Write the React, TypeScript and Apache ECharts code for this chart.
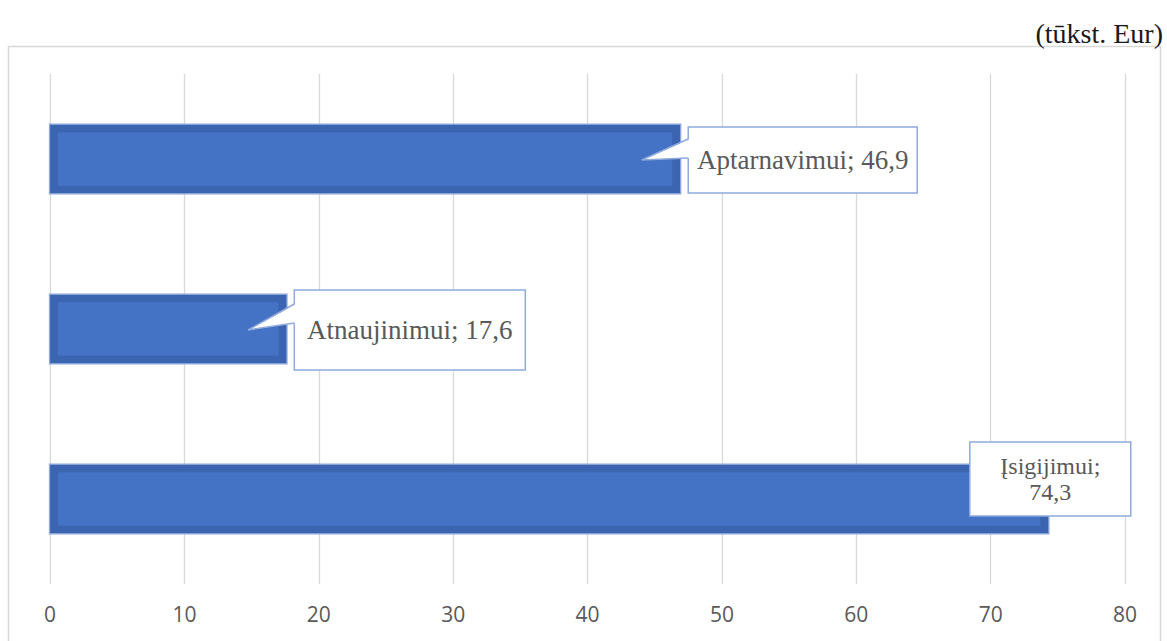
import React, { useEffect, useRef } from "react";
import * as echarts from "echarts";

// ---- data ----
const categories: string[] = ["Įsigijimui", "Atnaujinimui", "Aptarnavimui"];
const values: number[] = [74.3, 17.6, 46.9];
const xTicks = { min: 0, max: 80, interval: 10 };
const unitLabel = "(tūkst. Eur)";

// ---- callout styles (per category, same order) ----
const callouts = [
  { dx: -78.6, dy: -20, w: 161, h: 74, fontSize: 24, lineHeight: 26, multiline: true, pointer: false, pTop: 0, pBot: 0 },
  { dx: 7.8, dy: 1, w: 231, h: 80, fontSize: 27, lineHeight: 27, multiline: false, pointer: true, pTop: 14, pBot: 33 },
  { dx: 8, dy: 1, w: 229, h: 66, fontSize: 27, lineHeight: 27, multiline: false, pointer: true, pTop: 12, pBot: 31 },
];

const SERIF = '"Liberation Serif", "Times New Roman", serif';
const fmt = (v: number) => String(v).replace(".", ",");

export default function App() {
  const ref = useRef<HTMLDivElement>(null);
  useEffect(() => {
    if (!ref.current) return;
    const chart = echarts.init(ref.current, undefined, { renderer: "svg" });
    const option: any = {
      animation: false,
      backgroundColor: "#ffffff",
      grid: { left: 50, right: 42, top: 74, bottom: 57, containLabel: false },
      xAxis: {
        type: "value",
        min: xTicks.min,
        max: xTicks.max,
        interval: xTicks.interval,
        axisLine: { show: false },
        axisTick: { show: false },
        axisLabel: { color: "#595959", fontSize: 21, fontFamily: '"Open Sans", sans-serif', margin: 19 },
        splitLine: { show: true, lineStyle: { color: "#D9D9D9", width: 1.3 } },
      },
      yAxis: {
        type: "category",
        data: categories,
        axisLine: { show: false },
        axisTick: { show: false },
        axisLabel: { show: false },
        splitLine: { show: false },
      },
      graphic: [
        {
          type: "rect",
          shape: { x: 8.5, y: 46.5, width: 1152, height: 700 },
          style: { fill: "none", stroke: "#D9D9D9", lineWidth: 1.5 },
          silent: true,
          z: -1,
        },
        {
          type: "text",
          x: 1163,
          y: 33,
          style: {
            text: unitLabel,
            font: `28px ${SERIF}`,
            fill: "#1a1a1a",
            align: "right",
            verticalAlign: "middle",
          },
        },
      ],
      series: [
        {
          type: "custom",
          coordinateSystem: "cartesian2d",
          encode: { x: 0, y: 1 },
          data: values.map((v, i) => [v, i]),
          renderItem: (params: any, api: any) => {
            const idx = params.dataIndex;
            const v = api.value(0);
            const cat = api.value(1);
            const start = api.coord([0, cat]);
            const end = api.coord([v, cat]);
            const bandH = api.size([0, 1])[1];
            const h = bandH * 0.41;
            const y0 = start[1] - h / 2;
            const x0 = start[0];
            const w = end[0] - start[0];
            const c = callouts[idx];
            const bl = end[0] + c.dx;
            const bcy = end[1] + c.dy;
            const bt = bcy - c.h / 2;
            const lines = c.multiline
              ? [`${categories[idx]};`, fmt(values[idx])]
              : [`${categories[idx]}; ${fmt(values[idx])}`];
            const children: any[] = [
              {
                type: "rect",
                shape: { x: x0 - 0.5, y: y0, width: w + 1, height: h },
                style: { fill: "#3B65B1", stroke: "#8FAADC", lineWidth: 1.3 },
              },
              {
                type: "rect",
                shape: { x: x0 + 8, y: y0 + 8, width: Math.max(0, w - 16), height: h - 16 },
                style: { fill: "#4472C4" },
              },
              {
                type: "rect",
                shape: { x: bl, y: bt, width: c.w, height: c.h },
                style: { fill: "#ffffff", stroke: "#8FAADC", lineWidth: 1.5 },
              },
            ];
            if (c.pointer) {
              const tip = [end[0] - 38.5, end[1] + 1];
              children.push({
                type: "polygon",
                shape: { points: [tip, [bl + 1.5, bt + c.pTop], [bl + 1.5, bt + c.pBot]] },
                style: { fill: "#ffffff" },
              });
              children.push({
                type: "polyline",
                shape: { points: [[bl, bt + c.pTop], tip, [bl, bt + c.pBot]] },
                style: { fill: "none", stroke: "#8FAADC", lineWidth: 1.5 },
              });
            }
            const n = lines.length;
            lines.forEach((line, k) => {
              children.push({
                type: "text",
                x: bl + c.w / 2,
                y: bcy + (k - (n - 1) / 2) * c.lineHeight,
                style: {
                  text: line,
                  font: `${c.fontSize}px ${SERIF}`,
                  fill: "#595959",
                  align: "center",
                  verticalAlign: "middle",
                },
              });
            });
            return { type: "group", children };
          },
        },
      ],
    };
    chart.setOption(option);
    return () => chart.dispose();
  }, []);
  return (
    <div
      ref={ref}
      style={{ position: "absolute", left: 0, top: 0, width: 1167, height: 641 }}
    />
  );
}
